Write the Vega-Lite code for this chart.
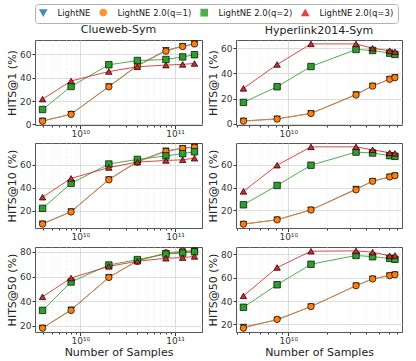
{
"$schema": "https://vega.github.io/schema/vega-lite/v6.json",
"padding": {"left": 6, "top": 3, "right": 3, "bottom": 2},
"data": {"values": [
{"d":"C","k":1,"s":"LightNE","x":4e9,"y":3.0},{"d":"C","k":1,"s":"LightNE","x":8e9,"y":8.8},{"d":"C","k":1,"s":"LightNE","x":2e10,"y":32.5},{"d":"C","k":1,"s":"LightNE","x":4e10,"y":50.5},{"d":"C","k":1,"s":"LightNE","x":8e10,"y":63.5},{"d":"C","k":1,"s":"LightNE","x":1.2e11,"y":67.0},{"d":"C","k":1,"s":"LightNE","x":1.6e11,"y":69.0},
{"d":"C","k":1,"s":"LightNE 2.0(q=1)","x":4e9,"y":2.8},{"d":"C","k":1,"s":"LightNE 2.0(q=1)","x":8e9,"y":8.6},{"d":"C","k":1,"s":"LightNE 2.0(q=1)","x":2e10,"y":32.2},{"d":"C","k":1,"s":"LightNE 2.0(q=1)","x":4e10,"y":50.0},{"d":"C","k":1,"s":"LightNE 2.0(q=1)","x":8e10,"y":62.8},{"d":"C","k":1,"s":"LightNE 2.0(q=1)","x":1.2e11,"y":66.7},{"d":"C","k":1,"s":"LightNE 2.0(q=1)","x":1.6e11,"y":68.9},
{"d":"C","k":1,"s":"LightNE 2.0(q=2)","x":4e9,"y":12.8},{"d":"C","k":1,"s":"LightNE 2.0(q=2)","x":8e9,"y":32.5},{"d":"C","k":1,"s":"LightNE 2.0(q=2)","x":2e10,"y":51.1},{"d":"C","k":1,"s":"LightNE 2.0(q=2)","x":4e10,"y":54.7},{"d":"C","k":1,"s":"LightNE 2.0(q=2)","x":8e10,"y":55.6},{"d":"C","k":1,"s":"LightNE 2.0(q=2)","x":1.2e11,"y":57.8},{"d":"C","k":1,"s":"LightNE 2.0(q=2)","x":1.6e11,"y":59.7},
{"d":"C","k":1,"s":"LightNE 2.0(q=3)","x":4e9,"y":21.7},{"d":"C","k":1,"s":"LightNE 2.0(q=3)","x":8e9,"y":37.2},{"d":"C","k":1,"s":"LightNE 2.0(q=3)","x":2e10,"y":45.3},{"d":"C","k":1,"s":"LightNE 2.0(q=3)","x":4e10,"y":49.4},{"d":"C","k":1,"s":"LightNE 2.0(q=3)","x":8e10,"y":50.8},{"d":"C","k":1,"s":"LightNE 2.0(q=3)","x":1.2e11,"y":51.4},{"d":"C","k":1,"s":"LightNE 2.0(q=3)","x":1.6e11,"y":52.2},
{"d":"H","k":1,"s":"LightNE","x":4.5e9,"y":2.4},{"d":"H","k":1,"s":"LightNE","x":8.2e9,"y":4.1},{"d":"H","k":1,"s":"LightNE","x":1.5e10,"y":8.4},{"d":"H","k":1,"s":"LightNE","x":3.35e10,"y":23.4},{"d":"H","k":1,"s":"LightNE","x":4.5e10,"y":30.1},{"d":"H","k":1,"s":"LightNE","x":6.1e10,"y":35.5},{"d":"H","k":1,"s":"LightNE","x":6.7e10,"y":36.8},
{"d":"H","k":1,"s":"LightNE 2.0(q=1)","x":4.5e9,"y":2.3},{"d":"H","k":1,"s":"LightNE 2.0(q=1)","x":8.2e9,"y":3.9},{"d":"H","k":1,"s":"LightNE 2.0(q=1)","x":1.5e10,"y":8.3},{"d":"H","k":1,"s":"LightNE 2.0(q=1)","x":3.35e10,"y":23.0},{"d":"H","k":1,"s":"LightNE 2.0(q=1)","x":4.5e10,"y":30.0},{"d":"H","k":1,"s":"LightNE 2.0(q=1)","x":6.1e10,"y":35.4},{"d":"H","k":1,"s":"LightNE 2.0(q=1)","x":6.7e10,"y":36.7},
{"d":"H","k":1,"s":"LightNE 2.0(q=2)","x":4.5e9,"y":17.1},{"d":"H","k":1,"s":"LightNE 2.0(q=2)","x":8.2e9,"y":29.5},{"d":"H","k":1,"s":"LightNE 2.0(q=2)","x":1.5e10,"y":45.5},{"d":"H","k":1,"s":"LightNE 2.0(q=2)","x":3.35e10,"y":59.0},{"d":"H","k":1,"s":"LightNE 2.0(q=2)","x":4.5e10,"y":58.2},{"d":"H","k":1,"s":"LightNE 2.0(q=2)","x":6.1e10,"y":56.1},{"d":"H","k":1,"s":"LightNE 2.0(q=2)","x":6.7e10,"y":55.1},
{"d":"H","k":1,"s":"LightNE 2.0(q=3)","x":4.5e9,"y":28.2},{"d":"H","k":1,"s":"LightNE 2.0(q=3)","x":8.2e9,"y":47.1},{"d":"H","k":1,"s":"LightNE 2.0(q=3)","x":1.5e10,"y":63.4},{"d":"H","k":1,"s":"LightNE 2.0(q=3)","x":3.35e10,"y":63.4},{"d":"H","k":1,"s":"LightNE 2.0(q=3)","x":4.5e10,"y":60.0},{"d":"H","k":1,"s":"LightNE 2.0(q=3)","x":6.1e10,"y":58.0},{"d":"H","k":1,"s":"LightNE 2.0(q=3)","x":6.7e10,"y":57.2},
{"d":"C","k":10,"s":"LightNE","x":4e9,"y":8.5},{"d":"C","k":10,"s":"LightNE","x":8e9,"y":19.2},{"d":"C","k":10,"s":"LightNE","x":2e10,"y":47.2},{"d":"C","k":10,"s":"LightNE","x":4e10,"y":63.0},{"d":"C","k":10,"s":"LightNE","x":8e10,"y":72.4},{"d":"C","k":10,"s":"LightNE","x":1.2e11,"y":74.6},{"d":"C","k":10,"s":"LightNE","x":1.6e11,"y":75.8},
{"d":"C","k":10,"s":"LightNE 2.0(q=1)","x":4e9,"y":8.2},{"d":"C","k":10,"s":"LightNE 2.0(q=1)","x":8e9,"y":18.9},{"d":"C","k":10,"s":"LightNE 2.0(q=1)","x":2e10,"y":47.0},{"d":"C","k":10,"s":"LightNE 2.0(q=1)","x":4e10,"y":62.5},{"d":"C","k":10,"s":"LightNE 2.0(q=1)","x":8e10,"y":71.8},{"d":"C","k":10,"s":"LightNE 2.0(q=1)","x":1.2e11,"y":74.4},{"d":"C","k":10,"s":"LightNE 2.0(q=1)","x":1.6e11,"y":75.5},
{"d":"C","k":10,"s":"LightNE 2.0(q=2)","x":4e9,"y":22.0},{"d":"C","k":10,"s":"LightNE 2.0(q=2)","x":8e9,"y":43.9},{"d":"C","k":10,"s":"LightNE 2.0(q=2)","x":2e10,"y":60.8},{"d":"C","k":10,"s":"LightNE 2.0(q=2)","x":4e10,"y":64.8},{"d":"C","k":10,"s":"LightNE 2.0(q=2)","x":8e10,"y":67.9},{"d":"C","k":10,"s":"LightNE 2.0(q=2)","x":1.2e11,"y":69.9},{"d":"C","k":10,"s":"LightNE 2.0(q=2)","x":1.6e11,"y":71.5},
{"d":"C","k":10,"s":"LightNE 2.0(q=3)","x":4e9,"y":31.8},{"d":"C","k":10,"s":"LightNE 2.0(q=3)","x":8e9,"y":48.2},{"d":"C","k":10,"s":"LightNE 2.0(q=3)","x":2e10,"y":57.7},{"d":"C","k":10,"s":"LightNE 2.0(q=3)","x":4e10,"y":62.5},{"d":"C","k":10,"s":"LightNE 2.0(q=3)","x":8e10,"y":63.9},{"d":"C","k":10,"s":"LightNE 2.0(q=3)","x":1.2e11,"y":64.5},{"d":"C","k":10,"s":"LightNE 2.0(q=3)","x":1.6e11,"y":65.9},
{"d":"H","k":10,"s":"LightNE","x":4.5e9,"y":7.9},{"d":"H","k":10,"s":"LightNE","x":8.2e9,"y":11.8},{"d":"H","k":10,"s":"LightNE","x":1.5e10,"y":20.4},{"d":"H","k":10,"s":"LightNE","x":3.35e10,"y":38.7},{"d":"H","k":10,"s":"LightNE","x":4.5e10,"y":45.6},{"d":"H","k":10,"s":"LightNE","x":6.1e10,"y":49.4},{"d":"H","k":10,"s":"LightNE","x":6.7e10,"y":50.5},
{"d":"H","k":10,"s":"LightNE 2.0(q=1)","x":4.5e9,"y":7.9},{"d":"H","k":10,"s":"LightNE 2.0(q=1)","x":8.2e9,"y":11.7},{"d":"H","k":10,"s":"LightNE 2.0(q=1)","x":1.5e10,"y":20.3},{"d":"H","k":10,"s":"LightNE 2.0(q=1)","x":3.35e10,"y":38.1},{"d":"H","k":10,"s":"LightNE 2.0(q=1)","x":4.5e10,"y":45.6},{"d":"H","k":10,"s":"LightNE 2.0(q=1)","x":6.1e10,"y":49.4},{"d":"H","k":10,"s":"LightNE 2.0(q=1)","x":6.7e10,"y":50.5},
{"d":"H","k":10,"s":"LightNE 2.0(q=2)","x":4.5e9,"y":24.9},{"d":"H","k":10,"s":"LightNE 2.0(q=2)","x":8.2e9,"y":41.9},{"d":"H","k":10,"s":"LightNE 2.0(q=2)","x":1.5e10,"y":59.7},{"d":"H","k":10,"s":"LightNE 2.0(q=2)","x":3.35e10,"y":71.2},{"d":"H","k":10,"s":"LightNE 2.0(q=2)","x":4.5e10,"y":70.4},{"d":"H","k":10,"s":"LightNE 2.0(q=2)","x":6.1e10,"y":68.1},{"d":"H","k":10,"s":"LightNE 2.0(q=2)","x":6.7e10,"y":67.5},
{"d":"H","k":10,"s":"LightNE 2.0(q=3)","x":4.5e9,"y":36.7},{"d":"H","k":10,"s":"LightNE 2.0(q=3)","x":8.2e9,"y":59.7},{"d":"H","k":10,"s":"LightNE 2.0(q=3)","x":1.5e10,"y":75.8},{"d":"H","k":10,"s":"LightNE 2.0(q=3)","x":3.35e10,"y":75.8},{"d":"H","k":10,"s":"LightNE 2.0(q=3)","x":4.5e10,"y":73.2},{"d":"H","k":10,"s":"LightNE 2.0(q=3)","x":6.1e10,"y":70.6},{"d":"H","k":10,"s":"LightNE 2.0(q=3)","x":6.7e10,"y":70.1},
{"d":"C","k":50,"s":"LightNE","x":4e9,"y":18.4},{"d":"C","k":50,"s":"LightNE","x":8e9,"y":33.1},{"d":"C","k":50,"s":"LightNE","x":2e10,"y":59.3},{"d":"C","k":50,"s":"LightNE","x":4e10,"y":72.9},{"d":"C","k":50,"s":"LightNE","x":8e10,"y":78.7},{"d":"C","k":50,"s":"LightNE","x":1.2e11,"y":80.0},{"d":"C","k":50,"s":"LightNE","x":1.6e11,"y":80.8},
{"d":"C","k":50,"s":"LightNE 2.0(q=1)","x":4e9,"y":18.2},{"d":"C","k":50,"s":"LightNE 2.0(q=1)","x":8e9,"y":32.6},{"d":"C","k":50,"s":"LightNE 2.0(q=1)","x":2e10,"y":59.3},{"d":"C","k":50,"s":"LightNE 2.0(q=1)","x":4e10,"y":72.4},{"d":"C","k":50,"s":"LightNE 2.0(q=1)","x":8e10,"y":79.2},{"d":"C","k":50,"s":"LightNE 2.0(q=1)","x":1.2e11,"y":80.5},{"d":"C","k":50,"s":"LightNE 2.0(q=1)","x":1.6e11,"y":80.8},
{"d":"C","k":50,"s":"LightNE 2.0(q=2)","x":4e9,"y":32.6},{"d":"C","k":50,"s":"LightNE 2.0(q=2)","x":8e9,"y":55.6},{"d":"C","k":50,"s":"LightNE 2.0(q=2)","x":2e10,"y":69.3},{"d":"C","k":50,"s":"LightNE 2.0(q=2)","x":4e10,"y":73.7},{"d":"C","k":50,"s":"LightNE 2.0(q=2)","x":8e10,"y":78.2},{"d":"C","k":50,"s":"LightNE 2.0(q=2)","x":1.2e11,"y":79.0},{"d":"C","k":50,"s":"LightNE 2.0(q=2)","x":1.6e11,"y":80.0},
{"d":"C","k":50,"s":"LightNE 2.0(q=3)","x":4e9,"y":43.6},{"d":"C","k":50,"s":"LightNE 2.0(q=3)","x":8e9,"y":58.8},{"d":"C","k":50,"s":"LightNE 2.0(q=3)","x":2e10,"y":68.2},{"d":"C","k":50,"s":"LightNE 2.0(q=3)","x":4e10,"y":72.4},{"d":"C","k":50,"s":"LightNE 2.0(q=3)","x":8e10,"y":74.8},{"d":"C","k":50,"s":"LightNE 2.0(q=3)","x":1.2e11,"y":75.3},{"d":"C","k":50,"s":"LightNE 2.0(q=3)","x":1.6e11,"y":76.3},
{"d":"H","k":50,"s":"LightNE","x":4.5e9,"y":17.8},{"d":"H","k":50,"s":"LightNE","x":8.2e9,"y":23.9},{"d":"H","k":50,"s":"LightNE","x":1.5e10,"y":35.3},{"d":"H","k":50,"s":"LightNE","x":3.35e10,"y":53.1},{"d":"H","k":50,"s":"LightNE","x":4.5e10,"y":58.9},{"d":"H","k":50,"s":"LightNE","x":6.1e10,"y":61.7},{"d":"H","k":50,"s":"LightNE","x":6.7e10,"y":62.5},
{"d":"H","k":50,"s":"LightNE 2.0(q=1)","x":4.5e9,"y":16.9},{"d":"H","k":50,"s":"LightNE 2.0(q=1)","x":8.2e9,"y":24.4},{"d":"H","k":50,"s":"LightNE 2.0(q=1)","x":1.5e10,"y":35.3},{"d":"H","k":50,"s":"LightNE 2.0(q=1)","x":3.35e10,"y":53.1},{"d":"H","k":50,"s":"LightNE 2.0(q=1)","x":4.5e10,"y":58.9},{"d":"H","k":50,"s":"LightNE 2.0(q=1)","x":6.1e10,"y":61.7},{"d":"H","k":50,"s":"LightNE 2.0(q=1)","x":6.7e10,"y":62.5},
{"d":"H","k":50,"s":"LightNE 2.0(q=2)","x":4.5e9,"y":34.7},{"d":"H","k":50,"s":"LightNE 2.0(q=2)","x":8.2e9,"y":53.9},{"d":"H","k":50,"s":"LightNE 2.0(q=2)","x":1.5e10,"y":71.4},{"d":"H","k":50,"s":"LightNE 2.0(q=2)","x":3.35e10,"y":78.9},{"d":"H","k":50,"s":"LightNE 2.0(q=2)","x":4.5e10,"y":77.8},{"d":"H","k":50,"s":"LightNE 2.0(q=2)","x":6.1e10,"y":76.4},{"d":"H","k":50,"s":"LightNE 2.0(q=2)","x":6.7e10,"y":75.6},
{"d":"H","k":50,"s":"LightNE 2.0(q=3)","x":4.5e9,"y":44.4},{"d":"H","k":50,"s":"LightNE 2.0(q=3)","x":8.2e9,"y":68.6},{"d":"H","k":50,"s":"LightNE 2.0(q=3)","x":1.5e10,"y":82.5},{"d":"H","k":50,"s":"LightNE 2.0(q=3)","x":3.35e10,"y":82.8},{"d":"H","k":50,"s":"LightNE 2.0(q=3)","x":4.5e10,"y":81.7},{"d":"H","k":50,"s":"LightNE 2.0(q=3)","x":6.1e10,"y":78.6},{"d":"H","k":50,"s":"LightNE 2.0(q=3)","x":6.7e10,"y":78.9}
]},
"config": {
  "font": "DejaVu Sans",
  "view": {"stroke": "#555555", "strokeWidth": 1},
  "axis": {"domain": false, "labelFontSize": 9, "labelColor": "#333333", "tickColor": "#333333", "titleFontSize": 11, "titleFontWeight": "normal", "titleColor": "#222222", "gridColor": "#d4d4d4", "gridWidth": 0.8, "labelPadding": 1},
  "axisY": {"titlePadding": 2, "tickSize": 3},
  "axisX": {"titlePadding": 1},
  "title": {"fontSize": 11, "fontWeight": "normal", "color": "#222222", "offset": 0, "frame": "group", "anchor": "middle"},
  "legend": {"orient": "top", "offset": 0, "direction": "horizontal", "labelFontSize": 8.5, "labelFont": "DejaVu Sans", "labelColor": "#222222", "symbolSize": 38, "labelOffset": 10, "columnPadding": 6, "padding": 4, "strokeColor": "#b0b0b0", "strokeWidth": 1, "cornerRadius": 3, "fillColor": "white", "labelLimit": 200}
},
"resolve": {"scale": {"x": "independent", "y": "independent", "color": "shared", "shape": "shared"}, "legend": {"color": "shared", "shape": "shared"}},
"spacing": 3,
"vconcat": [
 {"spacing": 4, "hconcat": [
  {"width": 167, "height": 85, "title": "Clueweb-Sym",
   "transform": [{"filter": "datum.d == 'C' && datum.k == 1"}],
   "encoding": {
    "x": {"field": "x", "type": "quantitative", "scale": {"type": "log", "domain": [3.33e9, 1.92e11], "nice": false},
      "axis": {"title": null, "values": [4e9,5e9,6e9,7e9,8e9,9e9,1e10,2e10,3e10,4e10,5e10,6e10,7e10,8e10,9e10,1e11], "labelExpr": "datum.value == 1e10 ? '10¹⁰' : datum.value == 1e11 ? '10¹¹' : ''", "labelOverlap": false, "labelFlush": false,
        "gridColor": {"condition": {"test": "datum.value == 1e10 || datum.value == 1e11", "value": "#d4d4d4"}, "value": "#ececec"},
        "gridDash": {"condition": {"test": "datum.value == 1e10 || datum.value == 1e11", "value": []}, "value": [2, 2]},
        "tickSize": {"condition": {"test": "datum.value == 1e10 || datum.value == 1e11", "value": 3.5}, "value": 2}}},
    "y": {"field": "y", "type": "quantitative", "scale": {"domain": [-0.5, 72.3], "nice": false, "zero": false}, "axis": {"values": [0, 20, 40, 60], "title": "HITS@1 (%)"}},
    "color": {"field": "s", "type": "nominal", "title": null, "scale": {"domain": ["LightNE", "LightNE 2.0(q=1)", "LightNE 2.0(q=2)", "LightNE 2.0(q=3)"], "range": ["#1f77b4", "#ff7f0e", "#2ca02c", "#d62728"]},
      "legend": {"encode": {"symbols": {"update": {"shape": {"signal": "datum.value == 'LightNE' ? 'triangle-down' : datum.value == 'LightNE 2.0(q=1)' ? 'circle' : datum.value == 'LightNE 2.0(q=2)' ? 'square' : 'triangle-up'"}, "fill": {"signal": "datum.value == 'LightNE' ? '#1f77b4' : datum.value == 'LightNE 2.0(q=1)' ? '#ff7f0e' : datum.value == 'LightNE 2.0(q=2)' ? '#2ca02c' : '#d62728'"}, "stroke": {"value": "black"}, "strokeWidth": {"value": 0.7}, "opacity": {"value": 1}, "fillOpacity": {"value": 1}, "size": {"value": 38}}}}}}
   },
   "layer": [
    {"mark": {"type": "line", "strokeWidth": 1, "opacity": 0.85}},
    {"mark": {"type": "point", "filled": true, "size": 42, "stroke": "black", "strokeWidth": 0.7, "opacity": 1}, "encoding": {
      "shape": {"field": "s", "type": "nominal", "legend": null, "scale": {"domain": ["LightNE", "LightNE 2.0(q=1)", "LightNE 2.0(q=2)", "LightNE 2.0(q=3)"], "range": ["triangle-down", "circle", "square", "triangle-up"]}}}}
   ]},
  {"width": 166, "height": 85, "title": "Hyperlink2014-Sym",
   "transform": [{"filter": "datum.d == 'H' && datum.k == 1"}],
   "encoding": {
    "x": {"field": "x", "type": "quantitative", "scale": {"type": "log", "domain": [3.94e9, 7.6e10], "nice": false},
      "axis": {"title": null, "values": [4e9,5e9,6e9,7e9,8e9,9e9,1e10,2e10,3e10,4e10,5e10,6e10,7e10], "labelExpr": "datum.value == 1e10 ? '10¹⁰' : datum.value == 1e11 ? '10¹¹' : ''", "labelOverlap": false, "labelFlush": false,
        "gridColor": {"condition": {"test": "datum.value == 1e10 || datum.value == 1e11", "value": "#d4d4d4"}, "value": "#ececec"},
        "gridDash": {"condition": {"test": "datum.value == 1e10 || datum.value == 1e11", "value": []}, "value": [2, 2]},
        "tickSize": {"condition": {"test": "datum.value == 1e10 || datum.value == 1e11", "value": 3.5}, "value": 2}}},
    "y": {"field": "y", "type": "quantitative", "scale": {"domain": [-0.8, 66.5], "nice": false, "zero": false}, "axis": {"values": [0, 20, 40, 60], "title": "HITS@1 (%)"}},
    "color": {"field": "s", "type": "nominal", "title": null, "scale": {"domain": ["LightNE", "LightNE 2.0(q=1)", "LightNE 2.0(q=2)", "LightNE 2.0(q=3)"], "range": ["#1f77b4", "#ff7f0e", "#2ca02c", "#d62728"]},
      "legend": {"encode": {"symbols": {"update": {"shape": {"signal": "datum.value == 'LightNE' ? 'triangle-down' : datum.value == 'LightNE 2.0(q=1)' ? 'circle' : datum.value == 'LightNE 2.0(q=2)' ? 'square' : 'triangle-up'"}, "fill": {"signal": "datum.value == 'LightNE' ? '#1f77b4' : datum.value == 'LightNE 2.0(q=1)' ? '#ff7f0e' : datum.value == 'LightNE 2.0(q=2)' ? '#2ca02c' : '#d62728'"}, "stroke": {"value": "black"}, "strokeWidth": {"value": 0.7}, "opacity": {"value": 1}, "fillOpacity": {"value": 1}, "size": {"value": 38}}}}}}
   },
   "layer": [
    {"mark": {"type": "line", "strokeWidth": 1, "opacity": 0.85}},
    {"mark": {"type": "point", "filled": true, "size": 42, "stroke": "black", "strokeWidth": 0.7, "opacity": 1}, "encoding": {
      "shape": {"field": "s", "type": "nominal", "legend": null, "scale": {"domain": ["LightNE", "LightNE 2.0(q=1)", "LightNE 2.0(q=2)", "LightNE 2.0(q=3)"], "range": ["triangle-down", "circle", "square", "triangle-up"]}}}}
   ]}
 ]},
 {"spacing": 4, "hconcat": [
  {"width": 167, "height": 85,
   "transform": [{"filter": "datum.d == 'C' && datum.k == 10"}],
   "encoding": {
    "x": {"field": "x", "type": "quantitative", "scale": {"type": "log", "domain": [3.33e9, 1.92e11], "nice": false},
      "axis": {"title": null, "values": [4e9,5e9,6e9,7e9,8e9,9e9,1e10,2e10,3e10,4e10,5e10,6e10,7e10,8e10,9e10,1e11], "labelExpr": "datum.value == 1e10 ? '10¹⁰' : datum.value == 1e11 ? '10¹¹' : ''", "labelOverlap": false, "labelFlush": false,
        "gridColor": {"condition": {"test": "datum.value == 1e10 || datum.value == 1e11", "value": "#d4d4d4"}, "value": "#ececec"},
        "gridDash": {"condition": {"test": "datum.value == 1e10 || datum.value == 1e11", "value": []}, "value": [2, 2]},
        "tickSize": {"condition": {"test": "datum.value == 1e10 || datum.value == 1e11", "value": 3.5}, "value": 2}}},
    "y": {"field": "y", "type": "quantitative", "scale": {"domain": [4.8, 79.2], "nice": false, "zero": false}, "axis": {"values": [20, 40, 60], "title": "HITS@10 (%)"}},
    "color": {"field": "s", "type": "nominal", "title": null, "scale": {"domain": ["LightNE", "LightNE 2.0(q=1)", "LightNE 2.0(q=2)", "LightNE 2.0(q=3)"], "range": ["#1f77b4", "#ff7f0e", "#2ca02c", "#d62728"]},
      "legend": {"encode": {"symbols": {"update": {"shape": {"signal": "datum.value == 'LightNE' ? 'triangle-down' : datum.value == 'LightNE 2.0(q=1)' ? 'circle' : datum.value == 'LightNE 2.0(q=2)' ? 'square' : 'triangle-up'"}, "fill": {"signal": "datum.value == 'LightNE' ? '#1f77b4' : datum.value == 'LightNE 2.0(q=1)' ? '#ff7f0e' : datum.value == 'LightNE 2.0(q=2)' ? '#2ca02c' : '#d62728'"}, "stroke": {"value": "black"}, "strokeWidth": {"value": 0.7}, "opacity": {"value": 1}, "fillOpacity": {"value": 1}, "size": {"value": 38}}}}}}
   },
   "layer": [
    {"mark": {"type": "line", "strokeWidth": 1, "opacity": 0.85}},
    {"mark": {"type": "point", "filled": true, "size": 42, "stroke": "black", "strokeWidth": 0.7, "opacity": 1}, "encoding": {
      "shape": {"field": "s", "type": "nominal", "legend": null, "scale": {"domain": ["LightNE", "LightNE 2.0(q=1)", "LightNE 2.0(q=2)", "LightNE 2.0(q=3)"], "range": ["triangle-down", "circle", "square", "triangle-up"]}}}}
   ]},
  {"width": 166, "height": 85,
   "transform": [{"filter": "datum.d == 'H' && datum.k == 10"}],
   "encoding": {
    "x": {"field": "x", "type": "quantitative", "scale": {"type": "log", "domain": [3.94e9, 7.6e10], "nice": false},
      "axis": {"title": null, "values": [4e9,5e9,6e9,7e9,8e9,9e9,1e10,2e10,3e10,4e10,5e10,6e10,7e10], "labelExpr": "datum.value == 1e10 ? '10¹⁰' : datum.value == 1e11 ? '10¹¹' : ''", "labelOverlap": false, "labelFlush": false,
        "gridColor": {"condition": {"test": "datum.value == 1e10 || datum.value == 1e11", "value": "#d4d4d4"}, "value": "#ececec"},
        "gridDash": {"condition": {"test": "datum.value == 1e10 || datum.value == 1e11", "value": []}, "value": [2, 2]},
        "tickSize": {"condition": {"test": "datum.value == 1e10 || datum.value == 1e11", "value": 3.5}, "value": 2}}},
    "y": {"field": "y", "type": "quantitative", "scale": {"domain": [4.5, 79.2], "nice": false, "zero": false}, "axis": {"values": [20, 40, 60], "title": "HITS@10 (%)"}},
    "color": {"field": "s", "type": "nominal", "title": null, "scale": {"domain": ["LightNE", "LightNE 2.0(q=1)", "LightNE 2.0(q=2)", "LightNE 2.0(q=3)"], "range": ["#1f77b4", "#ff7f0e", "#2ca02c", "#d62728"]},
      "legend": {"encode": {"symbols": {"update": {"shape": {"signal": "datum.value == 'LightNE' ? 'triangle-down' : datum.value == 'LightNE 2.0(q=1)' ? 'circle' : datum.value == 'LightNE 2.0(q=2)' ? 'square' : 'triangle-up'"}, "fill": {"signal": "datum.value == 'LightNE' ? '#1f77b4' : datum.value == 'LightNE 2.0(q=1)' ? '#ff7f0e' : datum.value == 'LightNE 2.0(q=2)' ? '#2ca02c' : '#d62728'"}, "stroke": {"value": "black"}, "strokeWidth": {"value": 0.7}, "opacity": {"value": 1}, "fillOpacity": {"value": 1}, "size": {"value": 38}}}}}}
   },
   "layer": [
    {"mark": {"type": "line", "strokeWidth": 1, "opacity": 0.85}},
    {"mark": {"type": "point", "filled": true, "size": 42, "stroke": "black", "strokeWidth": 0.7, "opacity": 1}, "encoding": {
      "shape": {"field": "s", "type": "nominal", "legend": null, "scale": {"domain": ["LightNE", "LightNE 2.0(q=1)", "LightNE 2.0(q=2)", "LightNE 2.0(q=3)"], "range": ["triangle-down", "circle", "square", "triangle-up"]}}}}
   ]}
 ]},
 {"spacing": 4, "hconcat": [
  {"width": 167, "height": 85,
   "transform": [{"filter": "datum.d == 'C' && datum.k == 50"}],
   "encoding": {
    "x": {"field": "x", "type": "quantitative", "scale": {"type": "log", "domain": [3.33e9, 1.92e11], "nice": false},
      "axis": {"title": "Number of Samples", "values": [4e9,5e9,6e9,7e9,8e9,9e9,1e10,2e10,3e10,4e10,5e10,6e10,7e10,8e10,9e10,1e11], "labelExpr": "datum.value == 1e10 ? '10¹⁰' : datum.value == 1e11 ? '10¹¹' : ''", "labelOverlap": false, "labelFlush": false,
        "gridColor": {"condition": {"test": "datum.value == 1e10 || datum.value == 1e11", "value": "#d4d4d4"}, "value": "#ececec"},
        "gridDash": {"condition": {"test": "datum.value == 1e10 || datum.value == 1e11", "value": []}, "value": [2, 2]},
        "tickSize": {"condition": {"test": "datum.value == 1e10 || datum.value == 1e11", "value": 3.5}, "value": 2}}},
    "y": {"field": "y", "type": "quantitative", "scale": {"domain": [15.1, 83.9], "nice": false, "zero": false}, "axis": {"values": [20, 40, 60, 80], "title": "HITS@50 (%)"}},
    "color": {"field": "s", "type": "nominal", "title": null, "scale": {"domain": ["LightNE", "LightNE 2.0(q=1)", "LightNE 2.0(q=2)", "LightNE 2.0(q=3)"], "range": ["#1f77b4", "#ff7f0e", "#2ca02c", "#d62728"]},
      "legend": {"encode": {"symbols": {"update": {"shape": {"signal": "datum.value == 'LightNE' ? 'triangle-down' : datum.value == 'LightNE 2.0(q=1)' ? 'circle' : datum.value == 'LightNE 2.0(q=2)' ? 'square' : 'triangle-up'"}, "fill": {"signal": "datum.value == 'LightNE' ? '#1f77b4' : datum.value == 'LightNE 2.0(q=1)' ? '#ff7f0e' : datum.value == 'LightNE 2.0(q=2)' ? '#2ca02c' : '#d62728'"}, "stroke": {"value": "black"}, "strokeWidth": {"value": 0.7}, "opacity": {"value": 1}, "fillOpacity": {"value": 1}, "size": {"value": 38}}}}}}
   },
   "layer": [
    {"mark": {"type": "line", "strokeWidth": 1, "opacity": 0.85}},
    {"mark": {"type": "point", "filled": true, "size": 42, "stroke": "black", "strokeWidth": 0.7, "opacity": 1}, "encoding": {
      "shape": {"field": "s", "type": "nominal", "legend": null, "scale": {"domain": ["LightNE", "LightNE 2.0(q=1)", "LightNE 2.0(q=2)", "LightNE 2.0(q=3)"], "range": ["triangle-down", "circle", "square", "triangle-up"]}}}}
   ]},
  {"width": 166, "height": 85,
   "transform": [{"filter": "datum.d == 'H' && datum.k == 50"}],
   "encoding": {
    "x": {"field": "x", "type": "quantitative", "scale": {"type": "log", "domain": [3.94e9, 7.6e10], "nice": false},
      "axis": {"title": "Number of Samples", "values": [4e9,5e9,6e9,7e9,8e9,9e9,1e10,2e10,3e10,4e10,5e10,6e10,7e10], "labelExpr": "datum.value == 1e10 ? '10¹⁰' : datum.value == 1e11 ? '10¹¹' : ''", "labelOverlap": false, "labelFlush": false,
        "gridColor": {"condition": {"test": "datum.value == 1e10 || datum.value == 1e11", "value": "#d4d4d4"}, "value": "#ececec"},
        "gridDash": {"condition": {"test": "datum.value == 1e10 || datum.value == 1e11", "value": []}, "value": [2, 2]},
        "tickSize": {"condition": {"test": "datum.value == 1e10 || datum.value == 1e11", "value": 3.5}, "value": 2}}},
    "y": {"field": "y", "type": "quantitative", "scale": {"domain": [13.6, 86.1], "nice": false, "zero": false}, "axis": {"values": [20, 40, 60, 80], "title": "HITS@50 (%)"}},
    "color": {"field": "s", "type": "nominal", "title": null, "scale": {"domain": ["LightNE", "LightNE 2.0(q=1)", "LightNE 2.0(q=2)", "LightNE 2.0(q=3)"], "range": ["#1f77b4", "#ff7f0e", "#2ca02c", "#d62728"]},
      "legend": {"encode": {"symbols": {"update": {"shape": {"signal": "datum.value == 'LightNE' ? 'triangle-down' : datum.value == 'LightNE 2.0(q=1)' ? 'circle' : datum.value == 'LightNE 2.0(q=2)' ? 'square' : 'triangle-up'"}, "fill": {"signal": "datum.value == 'LightNE' ? '#1f77b4' : datum.value == 'LightNE 2.0(q=1)' ? '#ff7f0e' : datum.value == 'LightNE 2.0(q=2)' ? '#2ca02c' : '#d62728'"}, "stroke": {"value": "black"}, "strokeWidth": {"value": 0.7}, "opacity": {"value": 1}, "fillOpacity": {"value": 1}, "size": {"value": 38}}}}}}
   },
   "layer": [
    {"mark": {"type": "line", "strokeWidth": 1, "opacity": 0.85}},
    {"mark": {"type": "point", "filled": true, "size": 42, "stroke": "black", "strokeWidth": 0.7, "opacity": 1}, "encoding": {
      "shape": {"field": "s", "type": "nominal", "legend": null, "scale": {"domain": ["LightNE", "LightNE 2.0(q=1)", "LightNE 2.0(q=2)", "LightNE 2.0(q=3)"], "range": ["triangle-down", "circle", "square", "triangle-up"]}}}}
   ]}
 ]}
]
}
